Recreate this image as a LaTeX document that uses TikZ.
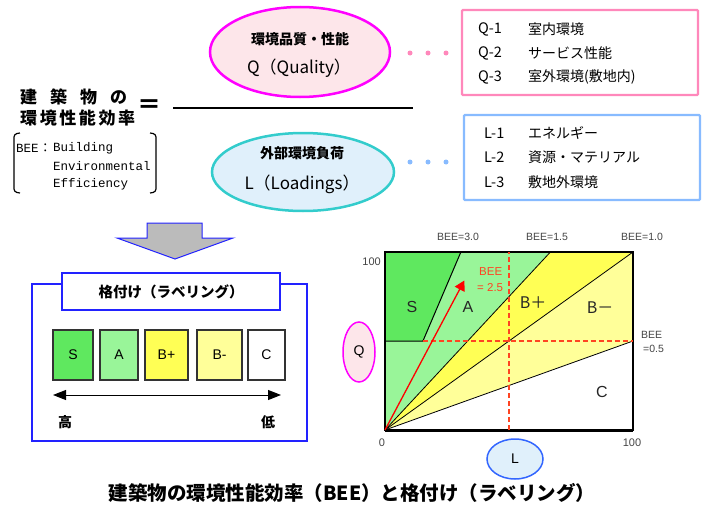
\documentclass[tikz,border=0pt]{standalone}
\usepackage{fontspec}
\setmainfont{Liberation Sans}
\newfontfamily\jp{Noto Sans CJK JP}
\newfontfamily\mono{Liberation Mono}
\usetikzlibrary{shapes.geometric,arrows.meta}
\definecolor{magentaB}{HTML}{FF00FF}
\definecolor{pinkfill}{HTML}{FDE6EA}
\definecolor{tealB}{HTML}{33CCCC}
\definecolor{bluefill}{HTML}{E0F0FB}
\definecolor{pinkbox}{HTML}{FF88BB}
\definecolor{bluebox}{HTML}{88BBFF}
\definecolor{frameblue}{HTML}{2222FF}
\definecolor{arrowgray}{HTML}{BBBBBB}
\definecolor{gS}{HTML}{5FE85F}
\definecolor{gA}{HTML}{99F599}
\definecolor{yBp}{HTML}{FFFF55}
\definecolor{yBm}{HTML}{FFFF99}
\definecolor{dashred}{HTML}{FF4422}
\definecolor{lblue}{HTML}{3366FF}
\definecolor{txtgray}{HTML}{444444}
\newcommand\fsz[1]{\fontsize{#1}{#1}\selectfont}
\begin{document}
\begin{tikzpicture}[x=1pt,y=-1pt,
  ell/.style={ellipse,inner sep=0pt,line width=2.5pt},
  jpb/.style={font=\jp\bfseries\fsz{#1},inner sep=0pt},
  jpn/.style={font=\jp\fsz{#1},inner sep=0pt},
  listbox/.style={draw=#1,line width=2.2pt,rounded corners=1pt},
  dotn/.style={circle,fill=#1,inner sep=0pt,minimum size=5pt},
  grade/.style={draw=black!80,line width=1.6pt,minimum height=50pt,inner sep=0pt,font=\fsz{14}},
  rlabel/.style={font=\fsz{16},text=black!85,inner sep=0pt},
  beelbl/.style={font=\fsz{10.5},text=txtgray,inner sep=0pt},
  axlbl/.style={font=\fsz{11},text=txtgray,inner sep=0pt},
  reddash/.style={draw=dashred,line width=2pt,dash pattern=on 5pt off 3pt}]
\useasboundingbox (0,0) rectangle (707,506);

% ---------- top: BEE formula ----------
\node[jpb=17,anchor=west] (t1) at (20,97) {\makebox[107pt][s]{建\hfil 築\hfil 物\hfil の}};
\node[jpb=17,anchor=west] (t2) at (20,118) {\makebox[115pt][s]{環\hfil 境\hfil 性\hfil 能\hfil 効\hfil 率}};
\node[jpb=24] (eq) at (149,107) {＝};
\coordinate (fracL) at (173,108);
\coordinate (fracR) at (413,108);
\draw[line width=1.6pt] (fracL) -- (fracR);

% bracket
\draw[line width=1.2pt,rounded corners=3pt] (20,133) -- (14,134) -- (14,192) -- (20,193);
\draw[line width=1.2pt,rounded corners=3pt] (150,133) -- (156,134) -- (156,192) -- (150,193);
\node[font=\mono\fsz{12.5},anchor=west,inner sep=0pt] (bee1) at (16,148) {BEE};
\node[jpn=12.5,anchor=west] (beec) at (39,148) {：};
\node[font=\mono\fsz{12.5},anchor=west,inner sep=0pt] (bee2) at (53,148) {Building};
\node[font=\mono\fsz{12.5},anchor=west,inner sep=0pt] (bee3) at (53,166) {Environmental};
\node[font=\mono\fsz{12.5},anchor=west,inner sep=0pt] (bee4) at (53,184) {Efficiency};

% ellipses
\node[ell,draw=magentaB,fill=pinkfill,minimum width=180pt,minimum height=90pt] (qell) at (300,52) {};
\node[jpb=14] (qt1) at (300,39) {環境品質・性能};
\node[jpn=17] (qt2) at (299,68) {Q（Quality）};
\node[ell,draw=tealB,fill=bluefill,minimum width=182pt,minimum height=78pt] (lell) at (303,172) {};
\node[jpb=14] (lt1) at (302,153) {外部環境負荷};
\node[jpn=17] (lt2) at (302,184) {L（Loadings）};

% dots
\node[dotn=pinkbox] (qd1) at (410,53) {};
\node[dotn=pinkbox] (qd2) at (428,53) {};
\node[dotn=pinkbox] (qd3) at (446,53) {};
\node[dotn=bluebox] (ld1) at (410,162) {};
\node[dotn=bluebox] (ld2) at (428,162) {};
\node[dotn=bluebox] (ld3) at (446,162) {};

% list boxes
\draw[listbox=pinkbox] (462,10) rectangle (698,95);
\node[jpn=14.5,anchor=west] (q1a) at (478,29) {Q-1};
\node[jpn=14,anchor=west] (q1b) at (528,29) {室内環境};
\node[jpn=14.5,anchor=west] (q2a) at (478,53) {Q-2};
\node[jpn=14,anchor=west] (q2b) at (528,53) {サービス性能};
\node[jpn=14.5,anchor=west] (q3a) at (478,77) {Q-3};
\node[jpn=14,anchor=west] (q3b) at (528,77) {室外環境(敷地内)};
\draw[listbox=bluebox] (464,115) rectangle (700,200);
\node[jpn=14.5,anchor=west] (l1a) at (484,133) {L-1};
\node[jpn=14,anchor=west] (l1b) at (528,133) {エネルギー};
\node[jpn=14.5,anchor=west] (l2a) at (484,157) {L-2};
\node[jpn=14,anchor=west] (l2b) at (528,157) {資源・マテリアル};
\node[jpn=14.5,anchor=west] (l3a) at (484,182) {L-3};
\node[jpn=14,anchor=west] (l3b) at (528,182) {敷地外環境};

% ---------- down arrow ----------
\draw[fill=arrowgray,draw=frameblue,line width=1pt,line join=miter]
  (147,223) -- (202,223) -- (202,238) -- (233,238) -- (175,259) -- (117,238) -- (147,238) -- cycle;

% ---------- labeling frame ----------
\draw[draw=frameblue,line width=1.6pt] (32,284) rectangle (307,441);
\node[draw=frameblue,fill=white,line width=1.6pt,minimum width=218pt,minimum height=37pt,inner sep=0pt,
      font=\jp\bfseries\fsz{14.5}] (ttl) at (171,291.5) {格付け（ラベリング）};
\node[grade,fill=gS,minimum width=40pt] (gs) at (73,355) {S};
\node[grade,fill=gA,minimum width=38pt] (ga) at (119,355) {A};
\node[grade,fill=yBp,minimum width=43pt] (gbp) at (166.5,355) {B+};
\node[grade,fill=yBm,minimum width=45pt] (gbm) at (219.5,355) {B-};
\node[grade,fill=white,minimum width=37pt] (gc) at (266.5,355) {C};
\coordinate (arL) at (53,395);
\coordinate (arR) at (281,395);
\draw[line width=1pt,{Triangle[width=10pt,length=13pt]}-{Triangle[width=10pt,length=13pt]}] (arL) -- (arR);
\node[jpb=14] (hi) at (65,422) {高};
\node[jpb=14] (lo) at (268,422) {低};

% ---------- chart ----------
\begin{scope}[shift={(385,430)},x=2.48pt,y=1.78pt]
  \fill[gA] (0,0) -- (66.7,100) -- (0,100) -- cycle;
  \fill[gS] (0,50) -- (15.3,50) -- (30.6,100) -- (0,100) -- cycle;
  \fill[yBp] (0,0) -- (66.7,100) -- (100,100) -- cycle;
  \fill[yBm] (0,0) -- (100,100) -- (100,50) -- cycle;
  \fill[white] (0,0) -- (100,50) -- (100,0) -- cycle;
  \draw[line width=0.8pt] (0,0) -- (66.7,100);
  \draw[line width=0.8pt] (0,0) -- (100,100);
  \draw[line width=0.8pt] (0,0) -- (100,50);
  \draw[line width=1pt] (0,50) -- (15.3,50) -- (30.6,100);
  \coordinate (hd1) at (15.3,50);
  \coordinate (hd2) at (100,50);
  \coordinate (vd1) at (50,0);
  \coordinate (vd2) at (50,100);
  \draw[line width=1.5pt] (0,0) rectangle (100,100);
  \draw[line width=3pt] (0,0) -- (100,0);
  \coordinate (org) at (0,0);
  \coordinate (beept) at (32,84);
  \node[rlabel] (rS) at (10.9,69) {S};
  \node[rlabel] (rA) at (33.5,69) {A};
  \node[rlabel,font=\jp\fsz{16}] (rBp) at (59.7,71.5) {B＋};
  \node[rlabel,font=\jp\fsz{16}] (rBm) at (86.7,68.5) {B－};
  \node[rlabel] (rC) at (87.5,21.5) {C};
\end{scope}
\draw[reddash] (hd1) -- (hd2);
\draw[reddash] (vd1) -- (vd2);
\draw[red,line width=1.3pt,-{Triangle[width=11pt,length=10pt]}] (org) -- (beept);
\node[font=\fsz{11.5},text=dashred,inner sep=0pt,anchor=west] (b25a) at (479,272) {BEE};
\node[font=\fsz{11.5},text=dashred,inner sep=0pt,anchor=west] (b25b) at (477,288) {= 2.5};
\node[beelbl] (bl3) at (458,237) {BEE=3.0};
\node[beelbl] (bl15) at (547,237) {BEE=1.5};
\node[beelbl] (bl1) at (642,237) {BEE=1.0};
\node[beelbl,anchor=west] (bl05a) at (641,335) {BEE};
\node[beelbl,anchor=west] (bl05b) at (643,349) {=0.5};
\node[axlbl,anchor=east] (ax100q) at (381,262) {100};
\node[axlbl] (ax0) at (382,443) {0};
\node[axlbl] (ax100l) at (632,443) {100};
\node[ell,draw=magentaB,fill=pinkfill,line width=1.5pt,minimum width=32pt,minimum height=60pt,font=\fsz{14}] (qs) at (359,352) {Q};
\node[ell,draw=lblue,fill=bluefill,line width=1.5pt,minimum width=56pt,minimum height=40pt,font=\fsz{14}] (ls) at (515,459) {L};

% ---------- caption ----------
\node[jpb=19.5] (cap) at (352,493) {建築物の環境性能効率（BEE）と格付け（ラベリング）};
\end{tikzpicture}
\end{document}
